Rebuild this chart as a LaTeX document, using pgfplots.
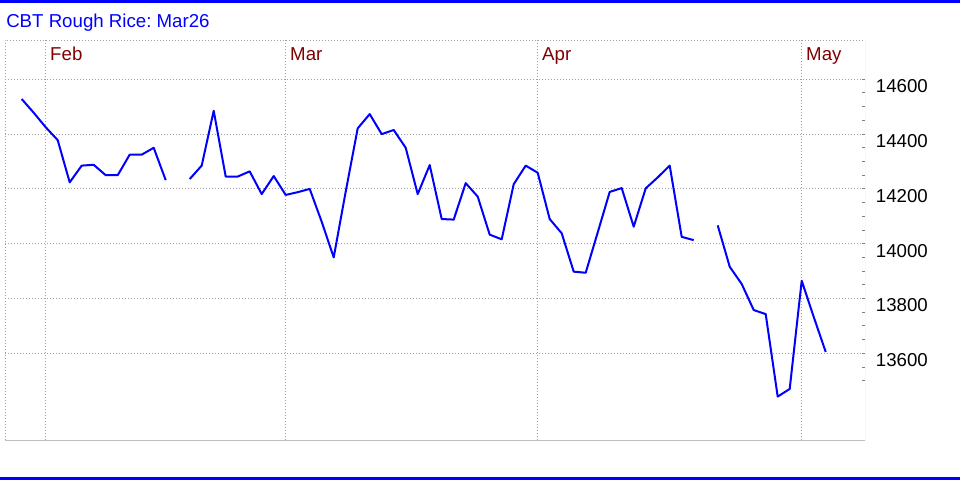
\documentclass[border=0pt]{standalone}
\usepackage{fontspec}
\setmainfont{Liberation Sans}
\usepackage{pgfplots}
\pgfplotsset{compat=1.18}
\definecolor{monthred}{HTML}{800000}
\definecolor{gridgray}{HTML}{A0A0A0}
\definecolor{bordergray}{HTML}{C0C0C0}
\frenchspacing
\begin{document}
\begin{tikzpicture}
\useasboundingbox (0,0) rectangle (720pt,360pt);
\fill[white] (0,0) rectangle (720pt,360pt);
\fill[blue] (0,0) rectangle (720pt,2.25pt);
\fill[blue] (0,358pt) rectangle (720pt,360pt);
\node[anchor=base west, inner sep=0pt, text=blue, font=\fontsize{14pt}{16pt}\selectfont] at (4.5pt,339.75pt) {CBT Rough Rice:\ Mar26};
\begin{axis}[
 at={(3.75pt,30pt)}, anchor=south west,
 scale only axis, width=645pt, height=300pt,
 xmin=-1.392, xmax=70.275, ymin=13283.6, ymax=14743.4,
 axis line style={draw=none},
 xtick={2,22,43,65}, xticklabels={}, xtick style={draw=none},
 ytick={13600,13800,14000,14200,14400,14600},
 yticklabels={13600,13800,14000,14200,14400,14600},
 scaled y ticks=false,
 minor ytick={13500,13550,...,14550},
 ytick pos=right, yticklabel pos=right, tick align=inside,
 ytick style={gray, line width=0.75pt},
 major tick length=2.5pt, minor tick length=2.5pt,
 yticklabel style={anchor=west, inner sep=0pt, xshift=8pt, yshift=-5.2pt, font=\fontsize{14pt}{16pt}\selectfont, text=black},
 xmajorgrids, ymajorgrids,
 major grid style={gridgray, line width=0.75pt, dash pattern=on 0.75pt off 1.5pt},
 unbounded coords=jump,
]
\addplot[blue, line width=1.5pt, no marks, line join=round] table[x=i, y=v] {
i v
0 14528
1 14478
2 14425
3 14378
4 14224
5 14285
6 14288
7 14250
8 14250
9 14325
10 14325
11 14350
12 14232
13 nan
14 14236
15 14285
16 14485
17 14245
18 14245
19 14264
20 14181
21 14247
22 14178
23 14188
24 14200
25 14080
26 13950
27 14190
28 14421
29 14473
30 14400
31 14415
32 14350
33 14181
34 14287
35 14090
36 14088
37 14221
38 14172
39 14033
40 14016
41 14217
42 14285
43 14259
44 14090
45 14038
46 13898
47 13894
48 14041
49 14189
50 14203
51 14062
52 14202
53 14242
54 14285
55 14025
56 14013
57 nan
58 14067
59 13916
60 13853
61 13758
62 13743
63 13442
64 13470
65 13865
66 13733
67 13605
};
\draw[gridgray, line width=0.75pt, dash pattern=on 0.75pt off 1.5pt] (rel axis cs:0,0) -- (rel axis cs:0,1) -- (rel axis cs:1,1);
\draw[bordergray, line width=0.75pt] (rel axis cs:0,0) -- (rel axis cs:1,0) -- (rel axis cs:1,1);
\foreach \m/\xx in {Feb/2, Mar/22, Apr/43, May/65}{
 \edef\tmp{\noexpand\node[anchor=base west, inner sep=0pt, text=monthred, font=\noexpand\fontsize{14pt}{16pt}\noexpand\selectfont, xshift=3.2pt] at (axis cs:\xx,14670) {\m};}
 \tmp
}
\end{axis}
\end{tikzpicture}
\end{document}
